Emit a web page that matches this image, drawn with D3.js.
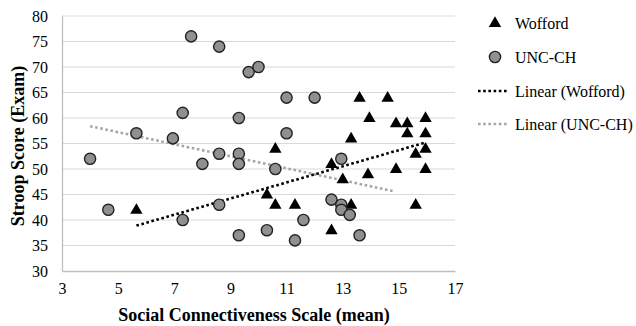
<!DOCTYPE html>
<html>
<head>
<meta charset="utf-8">
<script src="https://cdn.jsdelivr.net/npm/d3@7"></script>
<style>
  body { margin: 0; background: #fff; }
  svg text { font-family: "Liberation Serif", "Times New Roman", serif; fill: #000; }
</style>
</head>
<body>
<div id="chart"></div>
<script>
// data
const woffordX = [5.65, 10.3, 10.6, 10.6, 11.3, 12.6, 12.6, 13.0, 13.3, 13.3, 13.6, 13.9,
  13.95, 14.6, 14.9, 14.9, 15.3, 15.3, 15.6, 15.6, 15.95, 15.95, 15.95, 15.95];
const woffordY = [42, 45, 54, 43, 43, 51, 38, 48, 56, 43, 64, 49,
  60, 64, 59, 50, 59, 57, 53, 43, 60, 57, 54, 50];

const uncX = [4.0, 4.65, 5.65, 6.95, 7.3, 7.3, 7.6, 8.0, 8.6, 8.6, 8.6, 9.3, 9.3, 9.3, 9.3,
  9.65, 10.0, 10.3, 10.6, 11.0, 11.0, 11.3, 11.6, 12.0, 12.6, 12.95, 12.95, 12.95, 13.25, 13.6];
const uncY = [52, 42, 57, 56, 61, 40, 76, 51, 74, 53, 43, 60, 53, 51, 37,
  69, 70, 38, 50, 64, 57, 36, 40, 64, 44, 52, 43, 42, 41, 37];

// trendline end points
const trendWoffordX = [5.65, 15.95];
const trendWoffordY = [38.9, 55.2];
const trendUncX = [4.0, 14.85];
const trendUncY = [58.4, 45.6];

const xTicks = [3, 5, 7, 9, 11, 13, 15, 17];
const yTicks = [30, 35, 40, 45, 50, 55, 60, 65, 70, 75, 80];

const legendLabels = ["Wofford", "UNC-CH", "Linear (Wofford)", "Linear (UNC-CH)"];

var margin = {top: 16, right: 181, bottom: 55, left: 62},
    width = 636 - margin.left - margin.right,
    height = 326 - margin.top - margin.bottom;

var svg = d3.select("#chart")
  .append("svg")
    .attr("width", 636)
    .attr("height", 326);

var g = svg.append("g")
    .attr("transform", "translate(" + margin.left + "," + margin.top + ")");

const x = d3.scaleLinear().domain([3, 17]).range([0, width]);
const y = d3.scaleLinear().domain([30, 80]).range([height, 0]);

// gridlines
g.selectAll(".grid")
  .data(yTicks.filter(d => d > 30))
  .join("line")
    .attr("x1", 0).attr("x2", width)
    .attr("y1", d => y(d)).attr("y2", d => y(d))
    .attr("stroke", "#d9d9d9")
    .attr("stroke-width", 1);

// axes
const xAxis = g.append("g")
  .attr("transform", `translate(0,${height})`)
  .call(d3.axisBottom(x).tickValues(xTicks).tickSize(0).tickPadding(12));
const yAxis = g.append("g")
  .call(d3.axisLeft(y).tickValues(yTicks).tickSize(0).tickPadding(14));

[xAxis, yAxis].forEach(a => {
  a.attr("font-family", "Liberation Serif, serif").attr("font-size", 16);
  a.select(".domain").attr("stroke", "#bfbfbf").attr("stroke-width", 1.3);
  a.selectAll("text").attr("fill", "#000");
});

// trendlines
const line = d3.line().x(d => x(d[0])).y(d => y(d[1]));
g.append("path")
  .datum(trendUncX.map((v, i) => [v, trendUncY[i]]))
  .attr("d", line)
  .attr("fill", "none")
  .attr("stroke", "#a6a6a6")
  .attr("stroke-width", 2.6)
  .attr("stroke-dasharray", "2.6 2.6");
g.append("path")
  .datum(trendWoffordX.map((v, i) => [v, trendWoffordY[i]]))
  .attr("d", line)
  .attr("fill", "none")
  .attr("stroke", "#000")
  .attr("stroke-width", 2.6)
  .attr("stroke-dasharray", "2.6 2.6");

// Wofford triangles
const tri = d3.symbol().type(d3.symbolTriangle).size(66);
g.selectAll(".wof")
  .data(woffordX.map((v, i) => [v, woffordY[i]]))
  .join("path")
    .attr("class", "wof")
    .attr("d", tri)
    .attr("transform", d => `translate(${x(d[0])},${y(d[1]) + 0.5})`)
    .attr("fill", "#000");

// UNC-CH circles
g.selectAll(".unc")
  .data(uncX.map((v, i) => [v, uncY[i]]))
  .join("circle")
    .attr("class", "unc")
    .attr("cx", d => x(d[0]))
    .attr("cy", d => y(d[1]))
    .attr("r", 5.6)
    .attr("fill", "#909090")
    .attr("stroke", "#222")
    .attr("stroke-width", 1.4);

// axis titles
svg.append("text")
  .attr("x", 254)
  .attr("y", 321)
  .attr("text-anchor", "middle")
  .style("font-size", "18px")
  .style("font-weight", "bold")
  .text("Social Connectiveness Scale (mean)");

svg.append("text")
  .attr("transform", "translate(24,146) rotate(-90)")
  .attr("text-anchor", "middle")
  .style("font-size", "18px")
  .style("font-weight", "bold")
  .text("Stroop Score (Exam)");

// legend
const legY = [23, 57, 91, 124];
const leg = svg.append("g");
leg.append("path")
  .attr("d", tri)
  .attr("transform", `translate(495,${legY[0] + 0.5})`)
  .attr("fill", "#000");
leg.append("circle")
  .attr("cx", 495).attr("cy", legY[1]).attr("r", 5.6)
  .attr("fill", "#909090").attr("stroke", "#222").attr("stroke-width", 1.4);
leg.append("line")
  .attr("x1", 478).attr("x2", 507).attr("y1", legY[2]).attr("y2", legY[2])
  .attr("stroke", "#000").attr("stroke-width", 2.6).attr("stroke-dasharray", "2.6 2.6");
leg.append("line")
  .attr("x1", 478).attr("x2", 507).attr("y1", legY[3]).attr("y2", legY[3])
  .attr("stroke", "#a6a6a6").attr("stroke-width", 2.6).attr("stroke-dasharray", "2.6 2.6");
leg.selectAll(".lt")
  .data(legendLabels)
  .join("text")
    .attr("x", 515)
    .attr("y", (d, i) => legY[i])
    .attr("dy", "0.35em")
    .style("font-size", "16px")
    .text(d => d);
</script>
</body>
</html>
